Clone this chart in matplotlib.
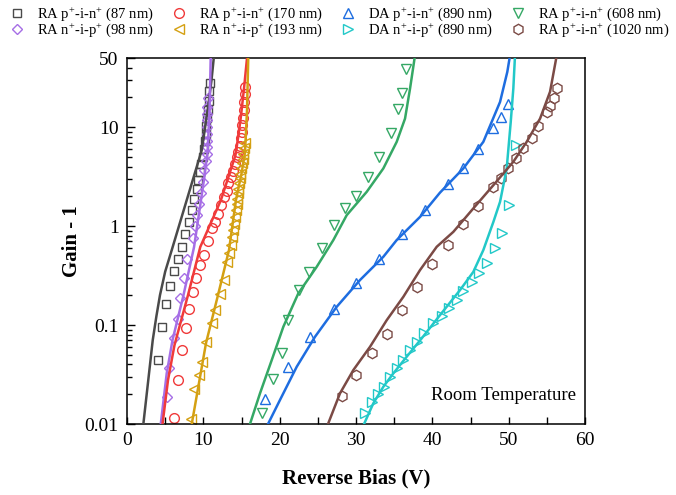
import matplotlib
matplotlib.use('Agg')
import matplotlib.pyplot as plt
from matplotlib.lines import Line2D

plt.rcParams['font.family'] = ['Liberation Serif', 'DejaVu Serif']
plt.rcParams['mathtext.fontset'] = 'custom'
plt.rcParams['mathtext.rm'] = 'Liberation Serif'
plt.rcParams['mathtext.default'] = 'regular'

# ---- measured points (V, gain-1) ----
sq_v = [4.10, 4.62, 5.11, 5.63, 6.16, 6.64, 7.17, 7.6, 8.12, 8.48, 8.82, 9.13, 9.34,
        9.55, 9.75, 9.9, 10.05, 10.2, 10.3, 10.4, 10.5, 10.6, 10.7, 10.8, 10.87]
sq_g = [0.044, 0.096, 0.162, 0.249, 0.351, 0.464, 0.61, 0.84, 1.10, 1.45, 1.9, 2.4, 2.9,
        3.5, 4.2, 5.0, 6.0, 7.2, 8.6, 10.3, 12.3, 15.0, 18.5, 23.0, 28.0]

dia_v = [5.20, 5.54, 6.16, 6.62, 6.94, 7.43, 7.82, 8.61, 8.91, 9.21, 9.47, 9.66, 9.92,
         10.09, 10.31, 10.42, 10.44, 10.45, 10.47, 10.49, 10.5, 10.52, 10.53, 10.55]
dia_g = [0.0186, 0.037, 0.074, 0.116, 0.186, 0.30, 0.46, 0.75, 1.0, 1.29, 1.69, 2.14, 2.8,
         3.7, 4.6, 5.4, 6.3, 7.3, 8.5, 10.0, 11.7, 13.5, 16.0, 19.5]

cir_v = [6.16, 6.62, 7.14, 7.73, 8.12, 8.61, 9.08, 9.56, 10.05, 10.6, 11.1, 11.53, 11.96,
         12.31, 12.71, 13.06, 13.27, 13.59, 13.85, 14.15, 14.37, 14.58, 14.75, 14.9, 15.0,
         15.1, 15.2, 15.3, 15.38, 15.44, 15.48]
cir_g = [0.0116, 0.028, 0.056, 0.093, 0.147, 0.217, 0.30, 0.40, 0.51, 0.70, 0.95, 1.1, 1.32,
         1.63, 1.95, 2.27, 2.7, 3.15, 3.6, 4.2, 5.0, 5.6, 6.5, 7.7, 9.0,
         10.5, 12.5, 15.0, 18.0, 21.5, 25.5]

lt_v = [8.38, 8.78, 9.39, 9.83, 10.35, 11.07, 11.53, 12.12, 12.64, 13.04, 13.3,
        13.63, 13.8, 13.93, 14.05, 14.15, 14.27, 14.37, 14.45, 14.5, 14.6, 14.71, 14.75,
        14.8, 14.92, 15.03, 15.14, 15.24, 15.35, 15.46]
lt_g = [0.0112, 0.0224, 0.031, 0.042, 0.068, 0.104, 0.142, 0.206, 0.288, 0.43, 0.54,
        0.64, 0.77, 0.91, 1.06, 1.24, 1.45, 1.69, 1.9, 2.14, 2.4, 2.7, 3.05,
        3.4, 3.85, 4.3, 4.8, 5.4, 6.2, 7.0]

up_v = [18.08, 21.13, 23.98, 27.12, 30.0, 33.05, 36.07, 39.04, 42.09, 44.06, 46.02, 47.99, 48.96, 49.95]
up_g = [0.0177, 0.038, 0.075, 0.144, 0.264, 0.47, 0.84, 1.47, 2.64, 3.83, 5.95, 9.8, 12.7, 17.3]

rt_v = [31.18, 32.06, 32.92, 33.67, 34.46, 35.33, 36.2, 37.08, 37.95, 38.91, 40.13, 41.23,
        42.22, 43.19, 44.06, 45.16, 46.15, 47.12, 48.15, 49.09, 50.09, 50.96]
rt_g = [0.0128, 0.0168, 0.0201, 0.0238, 0.030, 0.0366, 0.0443, 0.056, 0.068, 0.083, 0.104, 0.123,
        0.148, 0.179, 0.222, 0.273, 0.337, 0.426, 0.596, 0.843, 1.63, 6.6]

dn_v = [17.65, 19.09, 20.27, 21.13, 22.53, 23.88, 25.59, 27.12, 28.56, 30.0, 31.53, 33.05,
        34.55, 35.54, 36.07, 36.51]
dn_g = [0.0128, 0.0283, 0.0525, 0.112, 0.226, 0.345, 0.60, 1.02, 1.51, 2.02, 3.15, 5.0,
        8.8, 15.2, 21.9, 38.5]

hx_v = [28.13, 30.0, 32.06, 34.02, 36.07, 38.03, 40.0, 42.09, 43.98, 46.02, 47.99, 48.96,
        49.95, 50.96, 51.92, 53.02, 53.88, 54.98, 55.42, 55.94, 56.37]
hx_g = [0.0192, 0.031, 0.0525, 0.081, 0.142, 0.244, 0.41, 0.65, 1.04, 1.6, 2.49, 3.03,
        3.83, 4.83, 6.1, 7.8, 10.3, 14.1, 16.4, 19.8, 25.0]

# ---- simulated curves ----
sq_line_v = [2.14, 2.75, 3.37, 3.85, 4.32, 5.0, 5.86, 7.82, 9.79, 10.22, 10.65, 11.07, 11.4]
sq_line_g = [0.01, 0.0263, 0.0705, 0.123, 0.201, 0.347, 0.573, 1.83, 5.86, 9.89, 16.7, 29.9, 53.3]
dia_line_v = [4.42, 5.2, 5.96, 7.40, 8.78, 9.69, 10.15, 10.55, 10.81, 10.97]
dia_line_g = [0.01, 0.0325, 0.0705, 0.201, 0.614, 1.83, 3.2, 5.58, 14.9, 53.3]
cir_line_v = [4.65, 5.37, 6.22, 7.99, 9.6, 12.3, 14.21, 14.6, 14.94, 15.33, 15.72, 15.8]
cir_line_g = [0.01, 0.0278, 0.0628, 0.201, 0.617, 1.83, 5.21, 8.3, 13.2, 24.8, 49.8, 55.0]
lt_line_v = [8.48, 10.35, 11.92, 13.36, 14.27, 15.0, 15.46, 15.72, 15.89]
lt_line_g = [0.01, 0.0658, 0.201, 0.573, 1.83, 3.4, 5.58, 14.9, 53.3]
dn_line_v = [16.11, 17.42, 18.96, 20.48, 22.44, 24.85, 27.03, 28.78, 31.4, 33.58, 35.33, 36.42, 37.08, 37.73]
dn_line_g = [0.01, 0.0204, 0.0443, 0.0962, 0.209, 0.388, 0.723, 1.29, 2.22, 3.83, 7.11, 12.2, 24.6, 53.3]
up_line_v = [18.47, 20.04, 22.23, 24.63, 27.47, 30.52, 33.58, 35.33, 38.39, 41.0, 44.06, 46.68, 48.87, 49.82, 50.18]
up_line_g = [0.01, 0.0175, 0.0379, 0.0762, 0.153, 0.285, 0.490, 0.723, 1.24, 2.18, 3.83, 7.11, 18.0, 36.2, 53.3]
hx_line_v = [26.33, 27.9, 29.65, 31.84, 34.02, 36.2, 38.39, 40.57, 42.75, 45.37, 47.99, 50.61, 52.36, 54.11, 55.42, 56.3]
hx_line_g = [0.01, 0.0204, 0.0351, 0.0604, 0.112, 0.193, 0.360, 0.618, 0.875, 1.51, 2.59, 4.47, 7.11, 12.2, 22.8, 53.3]
rt_line_v = [31.05, 32.27, 33.58, 34.89, 36.64, 38.61, 41.0, 43.63, 45.37, 46.68, 47.99, 48.87, 49.74, 50.27, 50.61, 50.83]
rt_line_g = [0.01, 0.0162, 0.0238, 0.0325, 0.0479, 0.0735, 0.126, 0.226, 0.345, 0.573, 1.10, 1.76, 3.83, 11.3, 24.6, 53.3]

labels = ['RA p$^{+}$-i-n$^{+}$ (87 nm)', 'RA n$^{+}$-i-p$^{+}$ (98 nm)',
          'RA p$^{+}$-i-n$^{+}$ (170 nm)', 'RA n$^{+}$-i-p$^{+}$ (193 nm)',
          'DA p$^{+}$-i-n$^{+}$ (890 nm)', 'DA n$^{+}$-i-p$^{+}$ (890 nm)',
          'RA p$^{+}$-i-n$^{+}$ (608 nm)', 'RA p$^{+}$-i-n$^{+}$ (1020 nm)']

series = [
    (sq_v, sq_g, sq_line_v, sq_line_g, 's', 6.0, '#4a4a4a'),
    (dia_v, dia_g, dia_line_v, dia_line_g, 'D', 5.5, '#a66ee6'),
    (cir_v, cir_g, cir_line_v, cir_line_g, 'o', 7.0, '#f03a3a'),
    (lt_v, lt_g, lt_line_v, lt_line_g, '<', 7.5, '#d4a012'),
    (up_v, up_g, up_line_v, up_line_g, '^', 7.5, '#1e6de0'),
    (rt_v, rt_g, rt_line_v, rt_line_g, '>', 7.5, '#22c8c8'),
    (dn_v, dn_g, dn_line_v, dn_line_g, 'v', 7.5, '#35a865'),
    (hx_v, hx_g, hx_line_v, hx_line_g, 'h', 7.5, '#7b4a45'),
]

fig = plt.figure(figsize=(6.76, 4.95), dpi=100)
ax = fig.add_axes([0.1879, 0.1434, 0.6775, 0.7394])

handles = []
for (mv, mg, lv, lg, mk, ms, col), lab in zip(series, labels):
    ax.plot(mv, mg, linestyle='none', marker=mk, markersize=ms, markerfacecolor='none',
            markeredgecolor=col, markeredgewidth=1.0, zorder=2)
    ax.plot(lv, lg, color=col, linewidth=1.8, zorder=3, solid_joinstyle='round')
    handles.append(Line2D([0], [0], linestyle='none', marker=mk, markersize=ms,
                          markerfacecolor='none', markeredgecolor=col, markeredgewidth=1.0,
                          label=lab))

ax.set_yscale('log')
ax.set_xlim(0, 60)
ax.set_ylim(0.01, 50)
ax.set_xticks([0, 10, 20, 30, 40, 50, 60])
ax.set_xticks([5, 15, 25, 35, 45, 55], minor=True)
ax.set_yticks([0.01, 0.1, 1, 10, 50])
ax.set_yticklabels(['0.01', '0.1', '1', '10', '50'])
ax.tick_params(which='both', direction='in', top=False, right=False, labelsize=14, width=1.0)
ax.tick_params(axis='y', which='major', length=6, pad=6)
ax.tick_params(axis='y', which='minor', length=3.5)
ax.tick_params(axis='x', which='both', length=5, pad=6)
for s in ax.spines.values():
    s.set_linewidth(1.1)

ax.set_xlabel('Reverse Bias (V)', fontsize=15, fontweight='bold', labelpad=14)
ax.set_ylabel('Gain - 1', fontsize=15, fontweight='bold', labelpad=2)

ax.text(0.98, 0.077, 'Room Temperature', transform=ax.transAxes, ha='right', va='center',
        fontsize=13.5)

fig.legend(handles=handles, loc='upper center', bbox_to_anchor=(0.502, 0.998), ncol=4,
           frameon=False, fontsize=10.5, handlelength=1.0, handletextpad=0.85,
           columnspacing=1.25, labelspacing=-0.1, borderaxespad=0.1, borderpad=0.2)

fig.savefig('out.png', dpi=100)
